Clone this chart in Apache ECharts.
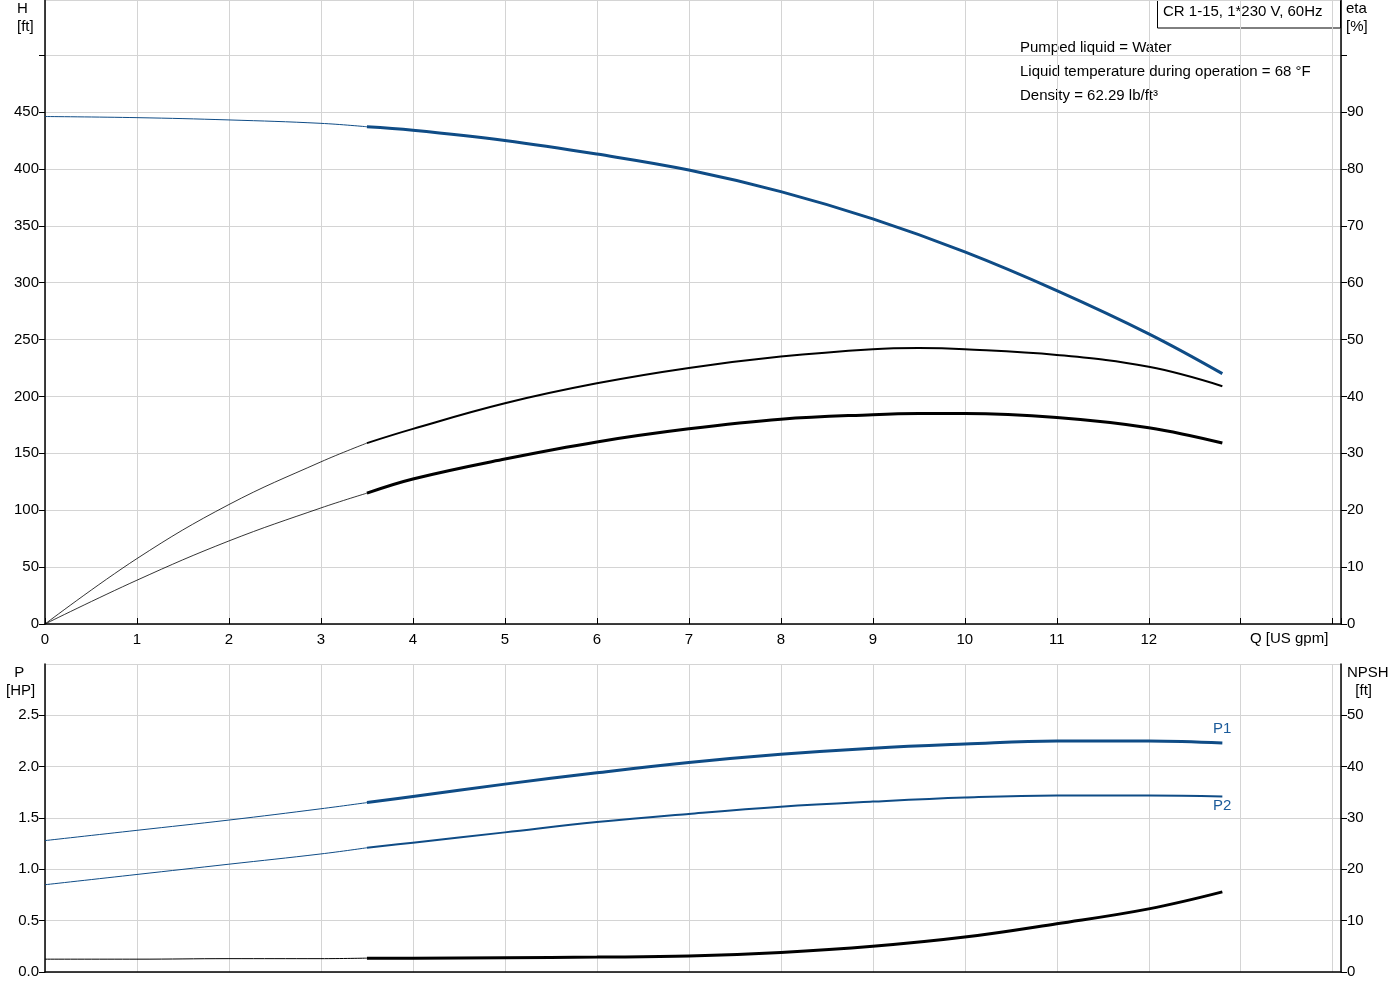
<!DOCTYPE html>
<html><head><meta charset="utf-8">
<script src="https://cdn.jsdelivr.net/npm/echarts@6/dist/echarts.min.js"></script>
<style>html,body{margin:0;padding:0;background:#fff}#c{width:1400px;height:1000px}</style>
</head><body><div id="c"></div>
<script>
const qH = [0,1,2,3,3.5,4,5,6,7,8,9,10,11,12,12.8];
const head = [446,445,443,440,437,434,425,413,399,380,356,327,293,255,220];
const qE = [0,1,2,3,3.5,4,5,6,7,8,9,9.5,10,11,12,12.8];
const etaA = [0,11.5,21,28.5,31.8,34.3,38.8,42.3,45,47,48.3,48.5,48.3,47.3,45.2,41.8];
const etaB = [0,7.7,14.6,20.4,23,25.5,29,32,34.3,36,36.8,37,37,36.3,34.5,31.8];
const qP = [0,1,2,3,3.5,4,5,6,7,8,9,10,11,12,12.8];
const p1 = [1.28,1.38,1.48,1.59,1.65,1.71,1.83,1.94,2.04,2.12,2.18,2.22,2.25,2.25,2.23];
const p2 = [0.85,0.95,1.05,1.15,1.21,1.26,1.36,1.46,1.54,1.61,1.66,1.70,1.72,1.72,1.71];
const npsh = [2.5,2.5,2.6,2.6,2.7,2.7,2.8,2.9,3.1,3.8,5,6.8,9.4,12.3,15.6];
const SPLIT = 3.5;

const BLUE = '#0f4c86';
function pairs(xs, ys){ return xs.map((x,i)=>[x,ys[i]]); }
function thin(xs, ys){ return pairs(xs,ys).filter(p=>p[0]<=SPLIT); }
function thick(xs, ys){ return pairs(xs,ys).filter(p=>p[0]>=SPLIT); }
function line(name, data, xi, yi, color, w){
  return {name, type:'line', data, xAxisIndex:xi, yAxisIndex:yi, smooth:0.4, symbol:'none',
    lineStyle:{color, width:w}, silent:true, z:5};
}
const font = {fontFamily:'Liberation Sans, Arial', fontSize:15, color:'#000'};
const gridLine = {show:true, lineStyle:{color:'#d4d4d4', width:1}};
const XMAX = 14.09;
function xAxis(gi, labels){
  return {type:'value', gridIndex:gi, min:0, max:XMAX, interval:1,
    axisLine:{show:true, onZero:false, lineStyle:{color:'#000', width:1.5}},
    axisTick:{show:labels, length:-6, lineStyle:{color:'#000'}},
    axisLabel:{show:labels, ...font, margin:8, formatter:v=> (v<=12 && Number.isInteger(v)) ? String(v) : ''},
    splitLine:gridLine};
}
function yAxis(gi, pos, max, interval, maxLabel, fmt){
  return {type:'value', gridIndex:gi, position:pos, min:0, max, interval,
    axisLine:{show:true, lineStyle:{color:'#000', width:1.5}},
    axisTick:{show:true, length:6, lineStyle:{color:'#000'}},
    axisLabel:{...font, margin:6, showMaxLabel:false, formatter:v=> v<=maxLabel+1e-9 ? fmt(v) : ''},
    splitLine: pos==='left' ? gridLine : {show:false}};
}
const chart = echarts.init(document.getElementById('c'));
chart.setOption({
  animation:false,
  grid:[{left:45, right:59, top:0, height:624},{left:45, right:59, top:664, height:308}],
  xAxis:[xAxis(0,true), xAxis(1,false)],
  yAxis:[
    yAxis(0,'left',548.4,50,450,v=>String(v)),
    yAxis(0,'right',109.68,10,90,v=>String(v)),
    yAxis(1,'left',3.0,0.5,2.5,v=>v.toFixed(1)),
    yAxis(1,'right',60,10,50,v=>String(v))
  ],
  series:[
    line('H', thin(qH,head),0,0,BLUE,1),
    line('H', thick(qH,head),0,0,BLUE,3),
    line('etaA', thin(qE,etaA),0,1,'#000',0.8),
    line('etaA', thick(qE,etaA),0,1,'#000',2),
    line('etaB', thin(qE,etaB),0,1,'#000',0.8),
    line('etaB', thick(qE,etaB),0,1,'#000',3),
    line('P1', thin(qP,p1),1,2,BLUE,1),
    line('P1', thick(qP,p1),1,2,BLUE,3),
    line('P2', thin(qP,p2),1,2,BLUE,1),
    line('P2', thick(qP,p2),1,2,BLUE,2),
    line('NPSH', thin(qP,npsh),1,3,'#000',1),
    line('NPSH', thick(qP,npsh),1,3,'#000',3)
  ],
  graphic:[
    {type:'text', left:17, top:0, style:{text:'H\n[ft]', ...font, fill:'#000', align:'center', lineHeight:18, font:'15px Liberation Sans'}},
    {type:'text', left:1346, top:0, style:{text:'eta\n[%]', fill:'#000', lineHeight:18, font:'15px Liberation Sans'}},
    {type:'rect', shape:{x:1157.5, y:-1, width:183, height:29}, style:{fill:'#fff', stroke:'#000', lineWidth:1}},
    {type:'text', left:1163, top:4, style:{text:'CR 1-15, 1*230 V, 60Hz', fill:'#000', font:'15px Liberation Sans'}},
    {type:'text', left:1020, top:36, style:{text:'Pumped liquid = Water\nLiquid temperature during operation = 68 °F\nDensity = 62.29 lb/ft³', fill:'#000', lineHeight:24, font:'15px Liberation Sans'}},
    {type:'text', left:1250, top:631, style:{text:'Q [US gpm]', fill:'#000', font:'15px Liberation Sans'}},
    {type:'text', left:6, top:664, style:{text:'  P\n[HP]', fill:'#000', lineHeight:18, font:'15px Liberation Sans'}},
    {type:'text', left:1347, top:664, style:{text:'NPSH\n  [ft]', fill:'#000', lineHeight:18, font:'15px Liberation Sans'}},
    {type:'text', left:1213, top:721, style:{text:'P1', fill:'#1a5a9a', font:'15px Liberation Sans'}},
    {type:'text', left:1213, top:798, style:{text:'P2', fill:'#1a5a9a', font:'15px Liberation Sans'}}
  ]
});
</script></body></html>
